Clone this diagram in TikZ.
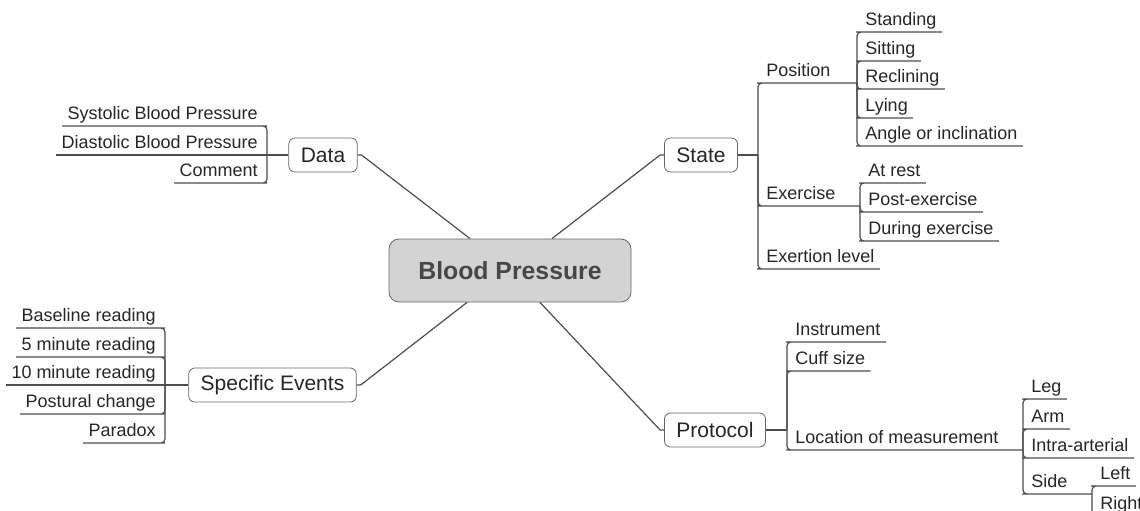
\documentclass[tikz,border=0pt]{standalone}
\usepackage{fontspec}
\setmainfont{Liberation Sans}
\usetikzlibrary{calc}

\definecolor{linegray}{HTML}{4D4D4D}
\definecolor{boxgray}{HTML}{666666}
\definecolor{textgray}{HTML}{262626}
\definecolor{hubfill}{HTML}{D3D3D3}

\tikzset{
  hub/.style={draw=boxgray, fill=hubfill, rounded corners=5pt, minimum width=121pt,
    minimum height=31.5pt, font=\bfseries\fontsize{12.4}{15}\selectfont, text=textgray!85},
  topic/.style={draw=boxgray, fill=white, rounded corners=3pt, inner xsep=6pt,
    minimum height=17pt, font=\fontsize{10.5}{12}\selectfont, text=textgray},
  leaf/.style={inner xsep=2.5pt, inner ysep=1pt, text height=7pt, text depth=2pt,
    font=\fontsize{9}{11}\selectfont, text=textgray},
  linkline/.style={draw=linegray, line width=0.6pt},
  forkline/.style={linkline, rounded corners=2pt},
}

\begin{document}
\begin{tikzpicture}[x=0.5pt, y=-0.5pt]
  \useasboundingbox (0,0) rectangle (1140,510);

  % Central topic
  \node[hub] (bp) at (510,270.5) {Blood Pressure};

  % Main topics
  \node[topic] (data) at (323,155) {Data};
  \node[topic] (events) at (272.5,385) {Specific Events};
  \node[topic] (state) at (701,155) {State};
  \node[topic] (protocol) at (715,430) {Protocol};

  % Links from the centre
  \draw[linkline] ($(bp.north)+(-40,0)$) -- ($(data.east)+(4,0)$) -- (data.east);
  \draw[linkline] ($(bp.north)+(42,0)$) -- ($(state.west)+(-4,0)$) -- (state.west);
  \draw[linkline] ($(bp.south)+(-43,0)$) -- ($(events.east)+(4,0)$) -- (events.east);
  \draw[linkline] ($(bp.south)+(30,0)$) -- ($(protocol.west)+(-4,0)$) -- (protocol.west);

  % Data
  \coordinate (datafork) at (267,155);
  \node[leaf, anchor=south east] (systolic) at (263,126) {Systolic Blood Pressure};
  \node[leaf, anchor=south east] (diastolic) at (263,155) {Diastolic Blood Pressure};
  \node[leaf, anchor=south east] (comment) at (263,183) {Comment};
  \draw[linkline] (data.west) -- (diastolic.south west);
  \draw[forkline] (datafork) |- (systolic.south east) -- (systolic.south west);
  \draw[forkline] (datafork) |- (comment.south east) -- (comment.south west);

  % Specific events
  \coordinate (eventsfork) at (165,385);
  \node[leaf, anchor=south east] (baseline) at (161,328) {Baseline reading};
  \node[leaf, anchor=south east] (five) at (161,357) {5 minute reading};
  \node[leaf, anchor=south east] (ten) at (161,385) {10 minute reading};
  \node[leaf, anchor=south east] (postural) at (161,414) {Postural change};
  \node[leaf, anchor=south east] (paradox) at (161,443) {Paradox};
  \draw[linkline] (events.west) -- (ten.south west);
  \draw[forkline] (eventsfork) |- (baseline.south east) -- (baseline.south west);
  \draw[forkline] (eventsfork) |- (five.south east) -- (five.south west);
  \draw[forkline] (eventsfork) |- (postural.south east) -- (postural.south west);
  \draw[forkline] (eventsfork) |- (paradox.south east) -- (paradox.south west);

  % State
  \coordinate (statefork) at (758,155);
  \draw[linkline] (state.east) -- (statefork);
  \node[leaf, anchor=south west] (position) at (761,83) {Position};
  \node[leaf, anchor=south west] (exercise) at (761,206) {Exercise};
  \node[leaf, anchor=south west] (exertion) at (761,269) {Exertion level};
  \coordinate (posfork) at (857,83);
  \coordinate (exefork) at (860,206);
  \draw[forkline] (statefork) |- (position.south west) -- (posfork);
  \draw[forkline] (statefork) |- (exercise.south west) -- (exefork);
  \draw[forkline] (statefork) |- (exertion.south west) -- (exertion.south east);

  % Position
  \node[leaf, anchor=south west] (standing) at (860,32) {Standing};
  \node[leaf, anchor=south west] (sitting) at (860,61) {Sitting};
  \node[leaf, anchor=south west] (reclining) at (860,89) {Reclining};
  \node[leaf, anchor=south west] (lying) at (860,118) {Lying};
  \node[leaf, anchor=south west] (angle) at (860,146) {Angle or inclination};
  \draw[forkline] (posfork) |- (standing.south west) -- (standing.south east);
  \draw[forkline] (posfork) |- (sitting.south west) -- (sitting.south east);
  \draw[forkline] (posfork) |- (reclining.south west) -- (reclining.south east);
  \draw[forkline] (posfork) |- (lying.south west) -- (lying.south east);
  \draw[forkline] (posfork) |- (angle.south west) -- (angle.south east);

  % Exercise
  \node[leaf, anchor=south west] (rest) at (863,183) {At rest};
  \node[leaf, anchor=south west] (post) at (863,212) {Post-exercise};
  \node[leaf, anchor=south west] (during) at (863,241) {During exercise};
  \draw[forkline] (exefork) |- (rest.south west) -- (rest.south east);
  \draw[forkline] (exefork) |- (post.south west) -- (post.south east);
  \draw[forkline] (exefork) |- (during.south west) -- (during.south east);

  % Protocol
  \coordinate (protofork) at (787,430);
  \draw[linkline] (protocol.east) -- (protofork);
  \node[leaf, anchor=south west] (instrument) at (790,342) {Instrument};
  \node[leaf, anchor=south west] (cuff) at (790,371) {Cuff size};
  \node[leaf, anchor=south west] (location) at (790,450) {Location of measurement};
  \coordinate (locfork) at (1023,450);
  \draw[forkline] (protofork) |- (instrument.south west) -- (instrument.south east);
  \draw[forkline] (protofork) |- (cuff.south west) -- (cuff.south east);
  \draw[forkline] (protofork) |- (location.south west) -- (locfork);

  % Location of measurement
  \node[leaf, anchor=south west] (leg) at (1026,399) {Leg};
  \node[leaf, anchor=south west] (arm) at (1026,429) {Arm};
  \node[leaf, anchor=south west] (intra) at (1026,458) {Intra-arterial};
  \node[leaf, anchor=south west] (side) at (1026,494) {Side};
  \coordinate (sidefork) at (1092,494);
  \draw[forkline] (locfork) |- (leg.south west) -- (leg.south east);
  \draw[forkline] (locfork) |- (arm.south west) -- (arm.south east);
  \draw[forkline] (locfork) |- (intra.south west) -- (intra.south east);
  \draw[forkline] (locfork) |- (side.south west) -- (sidefork);

  % Side
  \node[leaf, anchor=south west] (left) at (1095,486) {Left};
  \node[leaf, anchor=south west] (right) at (1095,516) {Right};
  \draw[forkline] (sidefork) |- (left.south west) -- (left.south east);
  \draw[forkline] (sidefork) |- (right.south west) -- (right.south east);
\end{tikzpicture}
\end{document}
